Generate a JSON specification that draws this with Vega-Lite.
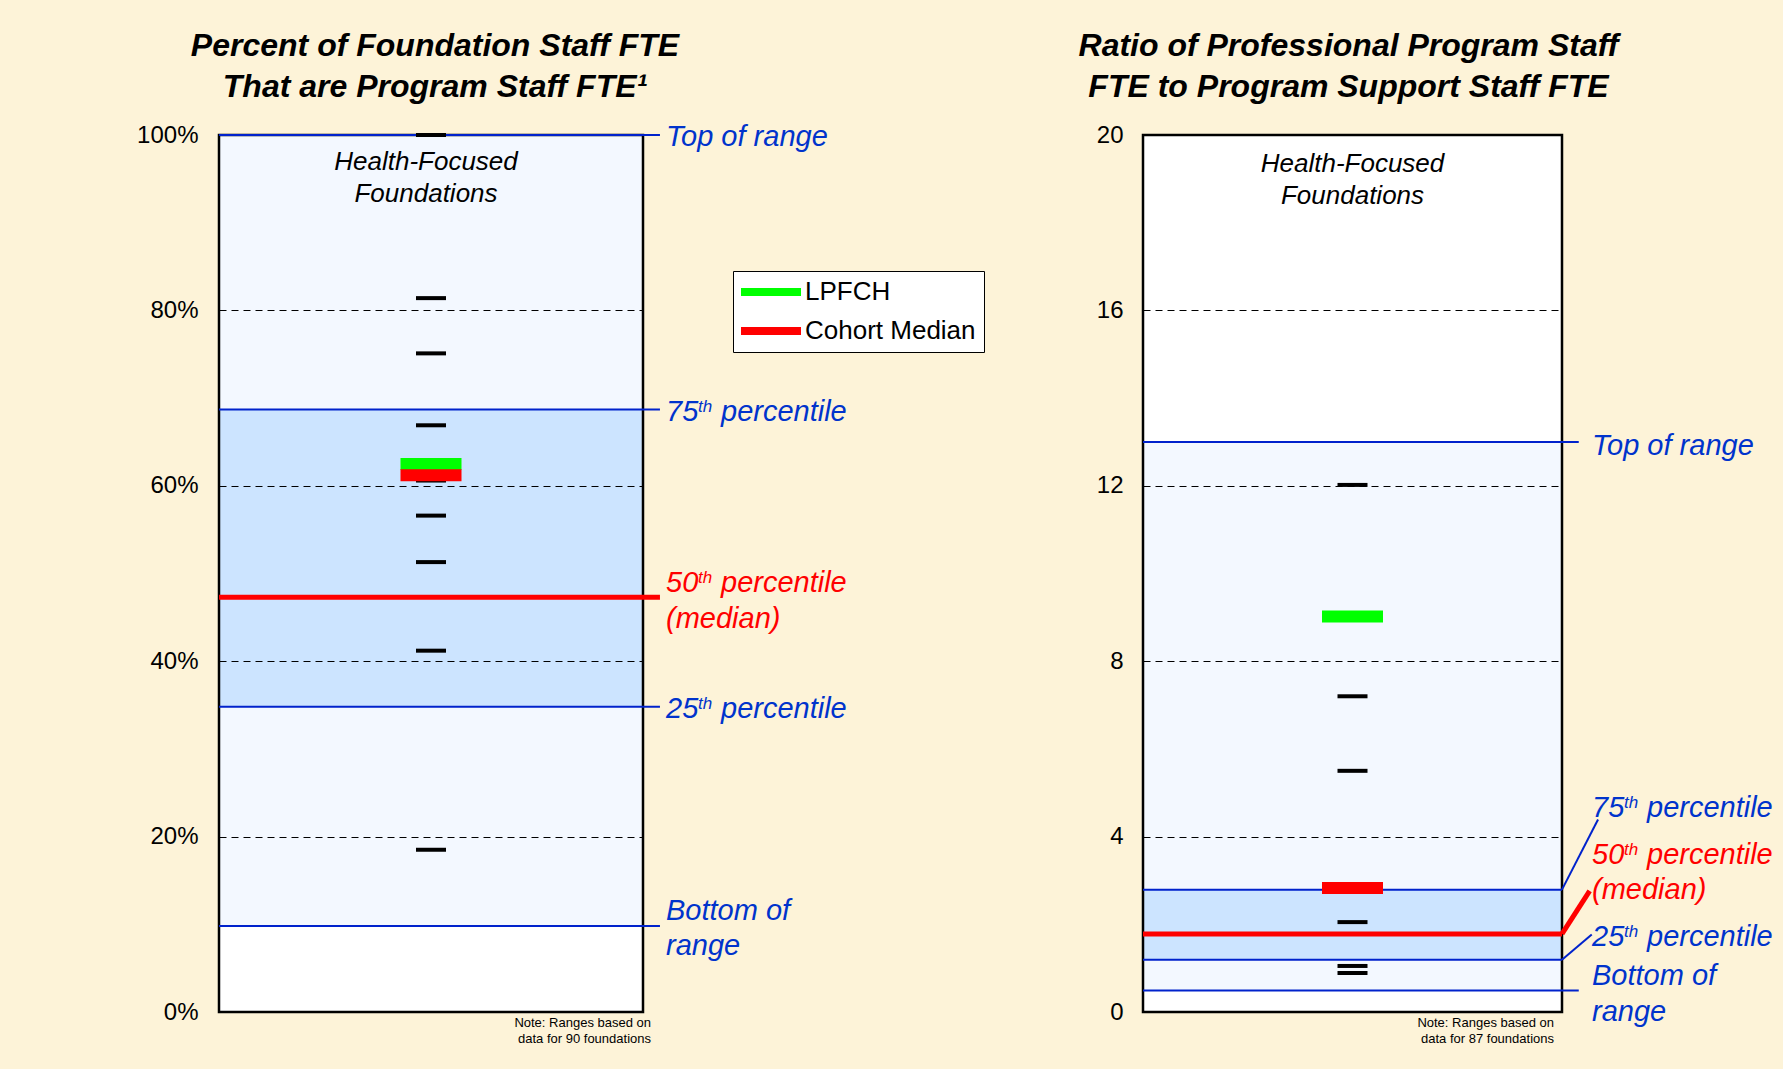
{
  "$schema": "https://vega.github.io/schema/vega-lite/v6.json",
  "background": "#FDF3D8",
  "padding": {"left": 136, "top": 30, "right": 11, "bottom": 37},
  "spacing": 500,
  "bounds": "flush",
  "config": {
    "font": "Liberation Sans",
    "view": {"stroke": null, "fill": "white"},
    "title": {"fontSize": 32, "fontStyle": "italic", "fontWeight": "bold", "color": "black", "lineHeight": 41, "offset": 19, "frame": "group", "anchor": "middle", "font": "Liberation Sans"},
    "text": {"font": "Liberation Sans", "fontStyle": "italic", "fontSize": 29, "align": "left", "baseline": "alphabetic"}
  },
  "datasets": {
    "leftStats": [
      {"stat": "top", "value": 100},
      {"stat": "p75", "value": 68.7},
      {"stat": "median", "value": 47.3},
      {"stat": "p25", "value": 34.8},
      {"stat": "bottom", "value": 9.8}
    ],
    "leftFdn": [{"value": 100}, {"value": 81.4}, {"value": 75.1}, {"value": 66.9}, {"value": 60.6}, {"value": 56.6}, {"value": 51.3}, {"value": 41.2}, {"value": 18.5}],
    "leftMark": [{"series": "LPFCH", "value": 62.5}, {"series": "Cohort Median", "value": 61.2}],
    "rightStats": [
      {"stat": "top", "value": 13.0},
      {"stat": "p75", "value": 2.79},
      {"stat": "median", "value": 1.78},
      {"stat": "p25", "value": 1.19},
      {"stat": "bottom", "value": 0.49}
    ],
    "rightFdn": [{"value": 12.02}, {"value": 7.2}, {"value": 5.5}, {"value": 2.05}, {"value": 1.05}, {"value": 0.89}],
    "rightMark": [{"series": "LPFCH", "value": 9.02}, {"series": "Cohort Median", "value": 2.83}]
  },
  "hconcat": [
    {
      "width": 424,
      "height": 877,
      "title": {"text": ["Percent of Foundation Staff FTE", "That are Program Staff FTE¹"], "dx": 4},
      "layer": [
        {"data": {"name": "leftStats"}, "transform": [{"pivot": "stat", "value": "value"}],
          "mark": {"type": "rect", "fill": "#F3F8FF"},
          "encoding": {
            "x": {"datum": 0, "type": "quantitative", "scale": {"domain": [0, 1], "nice": false, "zero": false}, "axis": null},
            "x2": {"datum": 1},
            "y": {"field": "bottom", "type": "quantitative", "scale": {"domain": [0, 100], "nice": false},
              "axis": {"values": [0, 20, 40, 60, 80, 100], "labelExpr": "datum.value + '%'", "title": null, "domain": false, "ticks": false, "labelFontSize": 24, "labelColor": "black", "labelPadding": 21, "grid": true, "gridColor": "black", "gridDash": [7, 5], "gridWidth": 1, "gridOpacity": {"condition": {"test": "datum.value == 0 || datum.value == 100", "value": 0}, "value": 1}, "zindex": 1}},
            "y2": {"field": "top"}}},
        {"data": {"name": "leftStats"}, "transform": [{"pivot": "stat", "value": "value"}],
          "mark": {"type": "rect", "fill": "#CCE4FF"},
          "encoding": {"x": {"datum": 0, "type": "quantitative"}, "x2": {"datum": 1}, "y": {"field": "p25", "type": "quantitative"}, "y2": {"field": "p75"}}},
        {"data": {"name": "leftStats"}, "transform": [{"filter": "datum.stat == 'top'"}],
          "mark": {"type": "rect", "fillOpacity": 0, "stroke": "black", "strokeWidth": 2.5},
          "encoding": {"x": {"datum": 0, "type": "quantitative"}, "x2": {"datum": 1}, "y": {"datum": 0, "type": "quantitative"}, "y2": {"datum": 100}}},
        {"data": {"name": "leftStats"}, "transform": [{"filter": "datum.stat != 'median'"}],
          "mark": {"type": "rule", "color": "#0022CC", "strokeWidth": 2},
          "encoding": {"x": {"datum": 0, "type": "quantitative"}, "x2": {"datum": 1.04}, "y": {"field": "value", "type": "quantitative"}}},
        {"data": {"name": "leftStats"}, "transform": [{"filter": "datum.stat == 'median'"}],
          "mark": {"type": "rule", "color": "#FF0000", "strokeWidth": 5},
          "encoding": {"x": {"datum": 0, "type": "quantitative"}, "x2": {"datum": 1.04}, "y": {"field": "value", "type": "quantitative"}}},
        {"data": {"name": "leftFdn"},
          "mark": {"type": "tick", "orient": "horizontal", "size": 30, "thickness": 4, "color": "black", "opacity": 1},
          "encoding": {"x": {"datum": 0.5, "type": "quantitative"}, "y": {"field": "value", "type": "quantitative"}}},
        {"data": {"name": "leftMark"},
          "mark": {"type": "tick", "orient": "horizontal", "size": 61, "thickness": 12, "opacity": 1},
          "encoding": {"x": {"datum": 0.5, "type": "quantitative"}, "y": {"field": "value", "type": "quantitative"},
            "color": {"field": "series", "type": "nominal", "scale": {"domain": ["LPFCH", "Cohort Median"], "range": ["#00FF00", "#FF0000"]},
              "legend": {"orient": "none", "legendX": 514, "legendY": 136, "title": null, "fillColor": "white", "strokeColor": "black", "padding": 8, "symbolType": "M-1.3,-0.4H4.7V0.4H-1.3Z", "symbolSize": 400, "symbolStrokeWidth": 0, "symbolOpacity": 1, "labelFontSize": 26, "labelOffset": 38, "labelLimit": 400, "rowPadding": 13, "labelColor": "black", "labelFont": "Liberation Sans"}}}},
        {"data": {"name": "leftStats"}, "transform": [{"filter": "datum.stat == 'top'"}],
          "mark": {"type": "text", "align": "center", "fontSize": 26, "lineHeight": 32, "dy": 35, "dx": -5, "color": "black"},
          "encoding": {"x": {"datum": 0.5, "type": "quantitative"}, "y": {"datum": 100, "type": "quantitative"}, "text": {"value": ["Health-Focused", "Foundations"]}}},
        {"data": {"name": "leftStats"}, "transform": [{"filter": "datum.stat == 'bottom'"}],
          "mark": {"type": "text", "align": "right", "fontSize": 13, "fontStyle": "normal", "lineHeight": 16, "dx": 8, "dy": 15, "color": "black"},
          "encoding": {"x": {"datum": 1, "type": "quantitative"}, "y": {"datum": 0, "type": "quantitative"}, "text": {"value": ["Note: Ranges based on", "data for 90 foundations"]}}},
        {"data": {"name": "leftStats"}, "transform": [{"filter": "datum.stat == 'top'"}],
          "mark": {"type": "text", "dx": 23, "dy": 11, "color": "#0033CC"},
          "encoding": {"x": {"datum": 1, "type": "quantitative"}, "y": {"field": "value", "type": "quantitative"}, "text": {"value": "Top of range"}}},
        {"data": {"name": "leftStats"}, "transform": [{"filter": "datum.stat == 'p75'"}],
          "mark": {"type": "text", "dx": 23, "dy": 11, "color": "#0033CC"},
          "encoding": {"x": {"datum": 1, "type": "quantitative"}, "y": {"field": "value", "type": "quantitative"}, "text": {"value": "75"}}},
        {"data": {"name": "leftStats"}, "transform": [{"filter": "datum.stat == 'p75'"}],
          "mark": {"type": "text", "dx": 55, "dy": 2, "fontSize": 17, "color": "#0033CC"},
          "encoding": {"x": {"datum": 1, "type": "quantitative"}, "y": {"field": "value", "type": "quantitative"}, "text": {"value": "th"}}},
        {"data": {"name": "leftStats"}, "transform": [{"filter": "datum.stat == 'p75'"}],
          "mark": {"type": "text", "dx": 78, "dy": 11, "color": "#0033CC"},
          "encoding": {"x": {"datum": 1, "type": "quantitative"}, "y": {"field": "value", "type": "quantitative"}, "text": {"value": "percentile"}}},
        {"data": {"name": "leftStats"}, "transform": [{"filter": "datum.stat == 'median'"}],
          "mark": {"type": "text", "dx": 23, "dy": -5, "color": "#FF0000"},
          "encoding": {"x": {"datum": 1, "type": "quantitative"}, "y": {"field": "value", "type": "quantitative"}, "text": {"value": "50"}}},
        {"data": {"name": "leftStats"}, "transform": [{"filter": "datum.stat == 'median'"}],
          "mark": {"type": "text", "dx": 55, "dy": -14, "fontSize": 17, "color": "#FF0000"},
          "encoding": {"x": {"datum": 1, "type": "quantitative"}, "y": {"field": "value", "type": "quantitative"}, "text": {"value": "th"}}},
        {"data": {"name": "leftStats"}, "transform": [{"filter": "datum.stat == 'median'"}],
          "mark": {"type": "text", "dx": 78, "dy": -5, "color": "#FF0000"},
          "encoding": {"x": {"datum": 1, "type": "quantitative"}, "y": {"field": "value", "type": "quantitative"}, "text": {"value": "percentile"}}},
        {"data": {"name": "leftStats"}, "transform": [{"filter": "datum.stat == 'median'"}],
          "mark": {"type": "text", "dx": 23, "dy": 31, "color": "#FF0000"},
          "encoding": {"x": {"datum": 1, "type": "quantitative"}, "y": {"field": "value", "type": "quantitative"}, "text": {"value": "(median)"}}},
        {"data": {"name": "leftStats"}, "transform": [{"filter": "datum.stat == 'p25'"}],
          "mark": {"type": "text", "dx": 23, "dy": 11, "color": "#0033CC"},
          "encoding": {"x": {"datum": 1, "type": "quantitative"}, "y": {"field": "value", "type": "quantitative"}, "text": {"value": "25"}}},
        {"data": {"name": "leftStats"}, "transform": [{"filter": "datum.stat == 'p25'"}],
          "mark": {"type": "text", "dx": 55, "dy": 2, "fontSize": 17, "color": "#0033CC"},
          "encoding": {"x": {"datum": 1, "type": "quantitative"}, "y": {"field": "value", "type": "quantitative"}, "text": {"value": "th"}}},
        {"data": {"name": "leftStats"}, "transform": [{"filter": "datum.stat == 'p25'"}],
          "mark": {"type": "text", "dx": 78, "dy": 11, "color": "#0033CC"},
          "encoding": {"x": {"datum": 1, "type": "quantitative"}, "y": {"field": "value", "type": "quantitative"}, "text": {"value": "percentile"}}},
        {"data": {"name": "leftStats"}, "transform": [{"filter": "datum.stat == 'bottom'"}],
          "mark": {"type": "text", "dx": 23, "dy": -6, "lineHeight": 35, "color": "#0033CC"},
          "encoding": {"x": {"datum": 1, "type": "quantitative"}, "y": {"field": "value", "type": "quantitative"}, "text": {"value": ["Bottom of", "range"]}}}
      ]
    },
    {
      "width": 419,
      "height": 877,
      "title": {"text": ["Ratio of Professional Program Staff", "FTE to Program Support Staff FTE"], "dx": -4},
      "layer": [
        {"data": {"name": "rightStats"}, "transform": [{"pivot": "stat", "value": "value"}],
          "mark": {"type": "rect", "fill": "#F3F8FF"},
          "encoding": {
            "x": {"datum": 0, "type": "quantitative", "scale": {"domain": [0, 1], "nice": false, "zero": false}, "axis": null},
            "x2": {"datum": 1},
            "y": {"field": "bottom", "type": "quantitative", "scale": {"domain": [0, 20], "nice": false},
              "axis": {"values": [0, 4, 8, 12, 16, 20], "title": null, "domain": false, "ticks": false, "labelFontSize": 24, "labelColor": "black", "labelPadding": 20, "grid": true, "gridColor": "black", "gridDash": [7, 5], "gridWidth": 1, "gridOpacity": {"condition": {"test": "datum.value == 0 || datum.value == 20", "value": 0}, "value": 1}, "zindex": 1}},
            "y2": {"field": "top"}}},
        {"data": {"name": "rightStats"}, "transform": [{"pivot": "stat", "value": "value"}],
          "mark": {"type": "rect", "fill": "#CCE4FF"},
          "encoding": {"x": {"datum": 0, "type": "quantitative"}, "x2": {"datum": 1}, "y": {"field": "p25", "type": "quantitative"}, "y2": {"field": "p75"}}},
        {"data": {"name": "rightStats"}, "transform": [{"filter": "datum.stat == 'top'"}],
          "mark": {"type": "rect", "fillOpacity": 0, "stroke": "black", "strokeWidth": 2.5},
          "encoding": {"x": {"datum": 0, "type": "quantitative"}, "x2": {"datum": 1}, "y": {"datum": 0, "type": "quantitative"}, "y2": {"datum": 20}}},
        {"data": {"name": "rightStats"}, "transform": [{"filter": "datum.stat == 'top' || datum.stat == 'bottom'"}],
          "mark": {"type": "rule", "color": "#0022CC", "strokeWidth": 2},
          "encoding": {"x": {"datum": 0, "type": "quantitative"}, "x2": {"datum": 1.04}, "y": {"field": "value", "type": "quantitative"}}},
        {"data": {"name": "rightStats"}, "transform": [{"filter": "datum.stat == 'p75' || datum.stat == 'p25'"}],
          "mark": {"type": "rule", "color": "#0022CC", "strokeWidth": 2},
          "encoding": {"x": {"datum": 0, "type": "quantitative"}, "x2": {"datum": 1}, "y": {"field": "value", "type": "quantitative"}}},
        {"data": {"name": "rightStats"}, "transform": [{"filter": "datum.stat == 'p75'"}],
          "mark": {"type": "rule", "color": "#0022CC", "strokeWidth": 2},
          "encoding": {"x": {"datum": 1, "type": "quantitative"}, "x2": {"datum": 1.086}, "y": {"field": "value", "type": "quantitative"}, "y2": {"datum": 4.39}}},
        {"data": {"name": "rightStats"}, "transform": [{"filter": "datum.stat == 'p25'"}],
          "mark": {"type": "rule", "color": "#0022CC", "strokeWidth": 2},
          "encoding": {"x": {"datum": 1, "type": "quantitative"}, "x2": {"datum": 1.071}, "y": {"field": "value", "type": "quantitative"}, "y2": {"datum": 1.77}}},
        {"data": {"name": "rightStats"}, "transform": [{"filter": "datum.stat == 'median'"}],
          "mark": {"type": "rule", "color": "#FF0000", "strokeWidth": 5},
          "encoding": {"x": {"datum": 0, "type": "quantitative"}, "x2": {"datum": 1}, "y": {"field": "value", "type": "quantitative"}}},
        {"data": {"name": "rightStats"}, "transform": [{"filter": "datum.stat == 'median'"}],
          "mark": {"type": "rule", "color": "#FF0000", "strokeWidth": 5},
          "encoding": {"x": {"datum": 1, "type": "quantitative"}, "x2": {"datum": 1.066}, "y": {"field": "value", "type": "quantitative"}, "y2": {"datum": 2.76}}},
        {"data": {"name": "rightFdn"},
          "mark": {"type": "tick", "orient": "horizontal", "size": 30, "thickness": 4, "color": "black", "opacity": 1},
          "encoding": {"x": {"datum": 0.5, "type": "quantitative"}, "y": {"field": "value", "type": "quantitative"}}},
        {"data": {"name": "rightMark"},
          "mark": {"type": "tick", "orient": "horizontal", "size": 61, "thickness": 12, "opacity": 1},
          "encoding": {"x": {"datum": 0.5, "type": "quantitative"}, "y": {"field": "value", "type": "quantitative"},
            "color": {"field": "series", "type": "nominal", "scale": {"domain": ["LPFCH", "Cohort Median"], "range": ["#00FF00", "#FF0000"]}}}},
        {"data": {"name": "rightStats"}, "transform": [{"filter": "datum.stat == 'top'"}],
          "mark": {"type": "text", "align": "center", "fontSize": 26, "lineHeight": 32, "dy": 37, "color": "black"},
          "encoding": {"x": {"datum": 0.5, "type": "quantitative"}, "y": {"datum": 20, "type": "quantitative"}, "text": {"value": ["Health-Focused", "Foundations"]}}},
        {"data": {"name": "rightStats"}, "transform": [{"filter": "datum.stat == 'bottom'"}],
          "mark": {"type": "text", "align": "right", "fontSize": 13, "fontStyle": "normal", "lineHeight": 16, "dx": -8, "dy": 15, "color": "black"},
          "encoding": {"x": {"datum": 1, "type": "quantitative"}, "y": {"datum": 0, "type": "quantitative"}, "text": {"value": ["Note: Ranges based on", "data for 87 foundations"]}}},
        {"data": {"name": "rightStats"}, "transform": [{"filter": "datum.stat == 'top'"}],
          "mark": {"type": "text", "dx": 30, "dy": 13, "color": "#0033CC"},
          "encoding": {"x": {"datum": 1, "type": "quantitative"}, "y": {"field": "value", "type": "quantitative"}, "text": {"value": "Top of range"}}},
        {"data": {"name": "rightStats"}, "transform": [{"filter": "datum.stat == 'p75'"}],
          "mark": {"type": "text", "dx": 30, "dy": 11, "color": "#0033CC"},
          "encoding": {"x": {"datum": 1, "type": "quantitative"}, "y": {"datum": 4.7, "type": "quantitative"}, "text": {"value": "75"}}},
        {"data": {"name": "rightStats"}, "transform": [{"filter": "datum.stat == 'p75'"}],
          "mark": {"type": "text", "dx": 62, "dy": 2, "fontSize": 17, "color": "#0033CC"},
          "encoding": {"x": {"datum": 1, "type": "quantitative"}, "y": {"datum": 4.7, "type": "quantitative"}, "text": {"value": "th"}}},
        {"data": {"name": "rightStats"}, "transform": [{"filter": "datum.stat == 'p75'"}],
          "mark": {"type": "text", "dx": 85, "dy": 11, "color": "#0033CC"},
          "encoding": {"x": {"datum": 1, "type": "quantitative"}, "y": {"datum": 4.7, "type": "quantitative"}, "text": {"value": "percentile"}}},
        {"data": {"name": "rightStats"}, "transform": [{"filter": "datum.stat == 'median'"}],
          "mark": {"type": "text", "dx": 30, "dy": 11, "color": "#FF0000"},
          "encoding": {"x": {"datum": 1, "type": "quantitative"}, "y": {"datum": 3.62, "type": "quantitative"}, "text": {"value": "50"}}},
        {"data": {"name": "rightStats"}, "transform": [{"filter": "datum.stat == 'median'"}],
          "mark": {"type": "text", "dx": 62, "dy": 2, "fontSize": 17, "color": "#FF0000"},
          "encoding": {"x": {"datum": 1, "type": "quantitative"}, "y": {"datum": 3.62, "type": "quantitative"}, "text": {"value": "th"}}},
        {"data": {"name": "rightStats"}, "transform": [{"filter": "datum.stat == 'median'"}],
          "mark": {"type": "text", "dx": 85, "dy": 11, "color": "#FF0000"},
          "encoding": {"x": {"datum": 1, "type": "quantitative"}, "y": {"datum": 3.62, "type": "quantitative"}, "text": {"value": "percentile"}}},
        {"data": {"name": "rightStats"}, "transform": [{"filter": "datum.stat == 'median'"}],
          "mark": {"type": "text", "dx": 30, "dy": 11, "color": "#FF0000"},
          "encoding": {"x": {"datum": 1, "type": "quantitative"}, "y": {"datum": 2.82, "type": "quantitative"}, "text": {"value": "(median)"}}},
        {"data": {"name": "rightStats"}, "transform": [{"filter": "datum.stat == 'p25'"}],
          "mark": {"type": "text", "dx": 30, "dy": 11, "color": "#0033CC"},
          "encoding": {"x": {"datum": 1, "type": "quantitative"}, "y": {"datum": 1.76, "type": "quantitative"}, "text": {"value": "25"}}},
        {"data": {"name": "rightStats"}, "transform": [{"filter": "datum.stat == 'p25'"}],
          "mark": {"type": "text", "dx": 62, "dy": 2, "fontSize": 17, "color": "#0033CC"},
          "encoding": {"x": {"datum": 1, "type": "quantitative"}, "y": {"datum": 1.76, "type": "quantitative"}, "text": {"value": "th"}}},
        {"data": {"name": "rightStats"}, "transform": [{"filter": "datum.stat == 'p25'"}],
          "mark": {"type": "text", "dx": 85, "dy": 11, "color": "#0033CC"},
          "encoding": {"x": {"datum": 1, "type": "quantitative"}, "y": {"datum": 1.76, "type": "quantitative"}, "text": {"value": "percentile"}}},
        {"data": {"name": "rightStats"}, "transform": [{"filter": "datum.stat == 'bottom'"}],
          "mark": {"type": "text", "dx": 30, "dy": 11, "color": "#0033CC"},
          "encoding": {"x": {"datum": 1, "type": "quantitative"}, "y": {"datum": 0.86, "type": "quantitative"}, "text": {"value": "Bottom of"}}},
        {"data": {"name": "rightStats"}, "transform": [{"filter": "datum.stat == 'bottom'"}],
          "mark": {"type": "text", "dx": 30, "dy": 11, "color": "#0033CC"},
          "encoding": {"x": {"datum": 1, "type": "quantitative"}, "y": {"datum": 0.05, "type": "quantitative"}, "text": {"value": "range"}}}
      ]
    }
  ]
}
